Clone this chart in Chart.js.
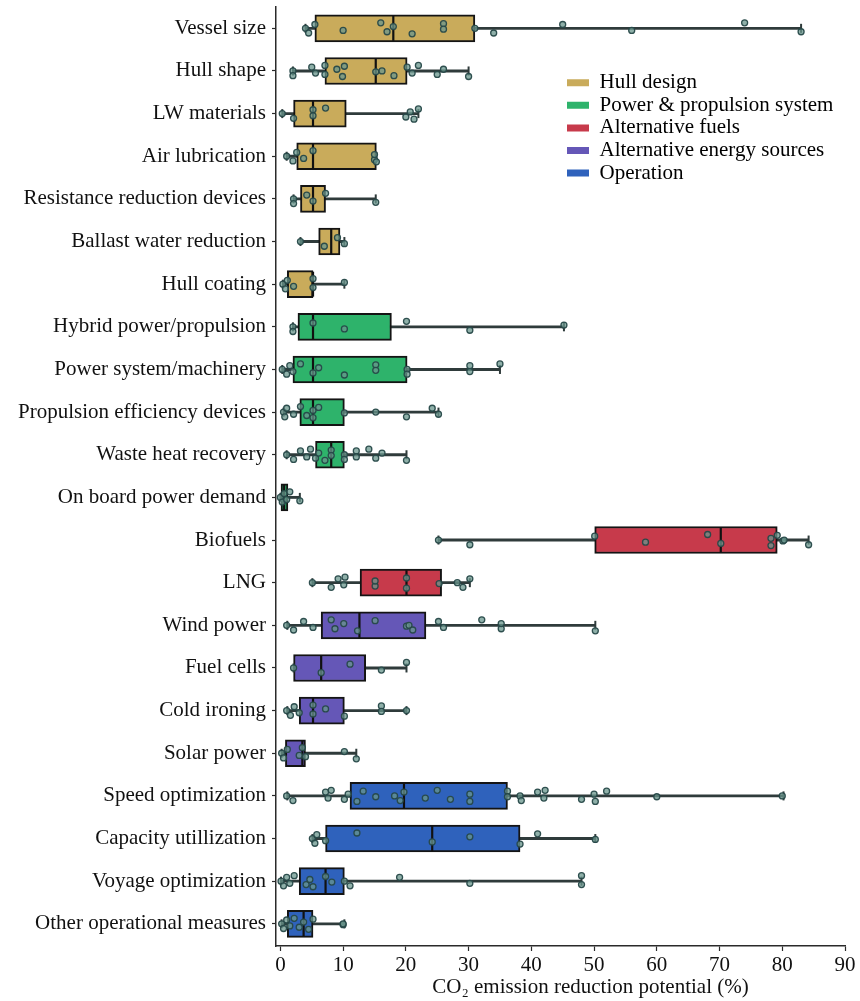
<!DOCTYPE html>
<html>
<head>
<meta charset="utf-8">
<script src="https://cdn.jsdelivr.net/npm/chart.js@4.4.1/dist/chart.umd.min.js"></script>
<style>
  html, body { margin: 0; padding: 0; background: #ffffff; }
  #wrap { width: 860px; height: 1001px; }
</style>
</head>
<body>
<div id="wrap"><canvas id="c" width="860" height="1001"></canvas></div>
<script>
// ---------- DATA ----------
const categories = [
  'Vessel size', 'Hull shape', 'LW materials', 'Air lubrication',
  'Resistance reduction devices', 'Ballast water reduction', 'Hull coating',
  'Hybrid power/propulsion', 'Power system/machinery', 'Propulsion efficiency devices',
  'Waste heat recovery', 'On board power demand', 'Biofuels', 'LNG',
  'Wind power', 'Fuel cells', 'Cold ironing', 'Solar power',
  'Speed optimization', 'Capacity utillization', 'Voyage optimization', 'Other operational measures'
];
const groupNames = ['Hull design', 'Power & propulsion system', 'Alternative fuels', 'Alternative energy sources', 'Operation'];
const categoryGroup = [0,0,0,0,0,0,0, 1,1,1,1,1, 2,2, 3,3,3,3, 4,4,4,4];

const whiskerLow  = [4,   2,    0.3, 1,    2.1, 3.2, 0.4, 2,    0.3, 0.5,  1,    0,   25.2, 5.1,  1.1,  2.1,  1.1,  0.2, 1.1,  5.1,  0.1,  0.2];
const boxQ1       = [5.5, 7.1,  2.1, 2.6,  3.2, 6.1, 1.1, 2.8,  2,   3.1,  5.6,  0.1, 50.1, 12.7, 6.5,  2.1,  3,    0.8, 11.1, 7.2,  3,    1.1];
const boxMedian   = [18,  15.2, 5.2, 5.2,  5.2, 8.1, 5.2, 5.2,  5.2, 5.2,  8.1,  0.6, 70.2, 20.1, 12.6, 6.5,  5.2,  3.5, 19.7, 24.2, 7.2,  3.7];
const boxQ3       = [31,  20.2, 10.5, 15.3, 7.2, 9.5, 5.2, 17.7, 20.2, 10.2, 10.2, 1.2, 79.2, 25.7, 23.2, 13.6, 10.2, 4,   36.2, 38.2, 10.2, 5.2];
const whiskerHigh = [83,  30,   22,  15.3, 15.2, 10.2, 10.2, 45.2, 35, 25.2, 20.1, 3.1, 84.2, 30.2, 50.2, 20.1, 20.1, 12.1, 80.2, 50.2, 48,  10.2];

const observations = [
  [4,4.5,5.5,10,16,17,18,21,26,26,31,34,45,56,74,83],
  [2,2,5,5.6,7.1,7.1,9,9.9,10.2,15.2,16.2,18.1,20.2,21,22,25,26,30],
  [0.3,2.1,5.2,5.2,7.2,20,20.7,21.3,22],
  [1,2,2.6,3.7,5.2,15,15,15.3],
  [2.1,2.1,4.2,5.2,7.2,15.2],
  [3.2,7,9.1,10.2],
  [0.4,0.8,1.1,2.1,5.2,5.2,10.2],
  [2,2,5.2,10.2,20.1,30.2,45.2],
  [0.3,1,1.5,2,3.2,5.2,6.1,10.2,15.2,15.2,20.2,20.2,30.2,30.2,35],
  [0.5,0.7,1,2.1,3.2,4.2,5.2,5.2,6.1,10.2,15.2,20.1,24.2,25.2],
  [1,2.1,3.2,4.2,4.8,5.6,6.1,7.1,8.1,8.1,10.2,10.2,12.1,12.1,14.1,15.2,16.2,20.1],
  [0,0.3,0.6,1,1.5,3.1],
  [25.2,30.2,50.1,58.2,68.1,70.2,78.2,78.2,79.2,80.1,80.3,84.2],
  [5.1,8.1,9.2,10.1,10.3,15.1,15.1,20.1,20.1,25.3,28.2,29.1,30.2],
  [1,2.1,3.7,5.2,8.1,8.7,10.1,12.3,15.1,20.1,20.5,21.1,25.2,26,32.1,35.2,35.2,50.2],
  [2.1,6.5,11.1,16.1,20.1],
  [1,1.6,2.2,3,5.2,5.2,7.2,10.2,16.1,16.1,20.1],
  [0.2,0.5,1.1,3,3.5,4,10.2,12.1],
  [1,2,7.2,7.6,8.1,10.2,10.8,12.2,13.2,15.2,18.2,19.1,19.7,23.1,25,27.1,30.2,30.2,36.2,36.2,38.2,38.4,41,42,42.2,48,50,50.2,52,60,80],
  [5.1,5.5,5.8,7.2,12.2,24.2,30.2,38.2,41,50.2],
  [0.1,0.5,1,1.5,2.2,4.1,4.7,5.2,7.2,8.2,10.2,11.1,19,30.2,48,48],
  [0.2,0.5,1,1.5,2.2,3,3.7,4.5,5.2,10,10]
];
const xTickStep = 10;
const xTitle = 'CO\u2082 emission reduction potential (%)';

// ---------- STYLE ----------
const groupColors = ['#C9AB5B', '#2EB36B', '#C73A4B', '#6557B7', '#2F62BC'];
const JITTER = [0, 0.11, -0.09, 0.05, -0.13, 0.08, -0.04, 0.13, -0.11, 0.02];
const FONT = 'Liberation Serif, "Times New Roman", serif';
const FONT_SIZE = 21;
const AXIS_COLOR = '#2a2a2a';
const TITLE_SHIFT = 30;

const idx = categories.map((_, i) => i);

const whiskerData = idx.map(i => ({ x: [whiskerLow[i], whiskerHigh[i]], y: i }));
const boxData = idx.map(i => ({ x: [boxQ1[i], boxQ3[i]], y: i }));
const medianData = idx.map(i => ({ x: boxMedian[i], y: i }));
const capData = [];
idx.forEach(i => { capData.push({ x: whiskerLow[i], y: i }); capData.push({ x: whiskerHigh[i], y: i }); });
const pointData = [];
observations.forEach((arr, i) => arr.forEach((v, k) => pointData.push({ x: v, y: i + JITTER[k % JITTER.length] })));

const layoutTweaks = {
  id: 'layoutTweaks',
  afterLayout(chart) {
    const lg = chart.legend;
    if (lg) {
      lg.left = 565.4; lg.top = 70.6;
      lg.right = lg.left + 290; lg.bottom = lg.top + 140;
    }
    const sx = chart.scales.x;
    if (sx && !sx._titleShifted) {
      const orig = sx.drawTitle;
      sx.drawTitle = function () {
        const ctx = this.ctx;
        ctx.save();
        ctx.translate(TITLE_SHIFT, 0);
        orig.call(this);
        ctx.restore();
      };
      sx._titleShifted = true;
    }
  }
};

new Chart(document.getElementById('c'), {
  type: 'scatter',
  data: {
    datasets: [
      {
        type: 'bar', label: 'whisker', indexAxis: 'y', grouped: false, order: 5,
        data: whiskerData, barThickness: 2.2,
        backgroundColor: '#2f3b3b', borderWidth: 0
      },
      {
        type: 'bar', label: 'box', indexAxis: 'y', grouped: false, order: 4,
        data: boxData, barThickness: 27,
        backgroundColor: idx.map(i => groupColors[categoryGroup[i]]),
        borderColor: '#141414', borderWidth: 2, borderSkipped: false
      },
      {
        type: 'scatter', label: 'median', order: 3, data: medianData,
        pointStyle: 'line', pointRotation: 90, pointRadius: 12.5,
        pointBorderWidth: 2.2, pointBorderColor: '#111', pointBackgroundColor: '#111'
      },
      {
        type: 'scatter', label: 'caps', order: 2, data: capData,
        pointStyle: 'line', pointRotation: 90, pointRadius: 4.5,
        pointBorderWidth: 2, pointBorderColor: '#2f3b3b'
      },
      {
        type: 'scatter', label: 'points', order: 1, data: pointData,
        pointStyle: 'circle', pointRadius: 3,
        pointBackgroundColor: 'rgba(105,150,140,0.75)',
        pointBorderColor: 'rgba(38,72,72,0.95)', pointBorderWidth: 1.3
      }
    ]
  },
  options: {
    responsive: false,
    animation: false,
    devicePixelRatio: 1,
    layout: { autoPadding: false, padding: { top: 7, right: 15, bottom: 0, left: 0 } },
    plugins: {
      tooltip: { enabled: false },
      legend: {
        position: 'chartArea',
        align: 'start',
        labels: {
          font: { family: FONT, size: FONT_SIZE },
          color: '#111',
          boxWidth: 22, boxHeight: 7, padding: 1.6,
          generateLabels: () => groupNames.map((g, gi) => ({
            text: g, fillStyle: groupColors[gi], strokeStyle: groupColors[gi],
            lineWidth: 0, hidden: false, datasetIndex: gi
          }))
        },
        onClick: () => {}
      }
    },
    scales: {
      x: {
        type: 'linear', position: 'bottom', min: -0.7, max: 90, offset: false,
        ticks: { stepSize: xTickStep, includeBounds: false, font: { family: FONT, size: FONT_SIZE }, color: '#111', padding: 1.5 },
        grid: { display: true, offset: false, drawOnChartArea: false, drawTicks: true, tickLength: 5, color: AXIS_COLOR, tickWidth: 1.2 },
        border: { display: true, color: AXIS_COLOR, width: 1.5 },
        title: { display: true, text: xTitle, font: { family: FONT, size: FONT_SIZE }, color: '#111', padding: { top: 0, bottom: 0.5 } },
        afterFit(s) { s.height = 55; s.paddingLeft = 0; s.paddingRight = 0; }
      },
      y: {
        type: 'linear', position: 'left', reverse: true, min: -0.5, max: 21.52, offset: false,
        afterBuildTicks(s) { s.ticks = categories.map((_, i) => ({ value: i })); },
        ticks: { callback: v => categories[v], font: { family: FONT, size: FONT_SIZE }, color: '#111', padding: 6, autoSkip: false },
        grid: { display: true, offset: false, drawOnChartArea: false, drawTicks: true, tickLength: 4, color: AXIS_COLOR, tickWidth: 1.2 },
        border: { display: true, color: AXIS_COLOR, width: 1.5 },
        afterFit(s) { s.width = 276; s.paddingTop = 0; s.paddingBottom = 0; }
      }
    }
  },
  plugins: [layoutTweaks]
});
</script>
</body>
</html>
